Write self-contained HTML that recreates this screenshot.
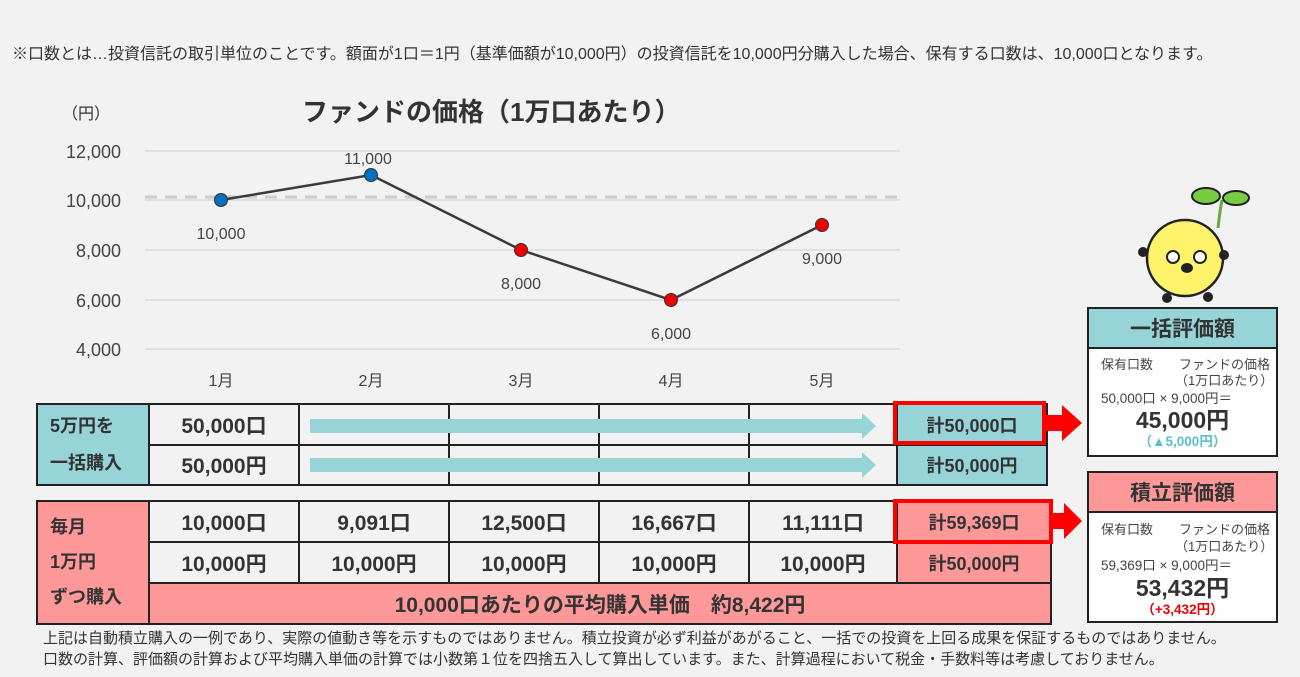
<!DOCTYPE html><html><head><meta charset="utf-8"><style>
body{margin:0;width:1300px;height:677px;background:#f2f2f2;position:relative;overflow:hidden;font-family:"Liberation Sans","Noto Sans CJK JP",sans-serif;color:#333}
.a{position:absolute}
.c{position:absolute;box-sizing:border-box;border:2px solid #222;display:flex;align-items:center;justify-content:center;font-weight:bold;font-size:21px;color:#333;background:#f2f2f2}
.t{background:#96d4d8}.p{background:#ff9999}
.arr{position:absolute;height:14px;background:#96d4d8}
.arr:after{content:"";position:absolute;right:-14px;top:-6px;border-left:14px solid #96d4d8;border-top:13px solid transparent;border-bottom:13px solid transparent}
.bx{position:absolute;box-sizing:border-box;border:2px solid #222;background:#fff;text-align:center}
.hd{position:absolute;box-sizing:border-box;border:2px solid #222;font-weight:bold;font-size:21px;display:flex;align-items:center;justify-content:center}
.sm{font-size:13px;color:#444;position:absolute}
</style></head><body>
<div class="a" style="left:12px;top:40px;font-size:16px;white-space:nowrap">※口数とは…投資信託の取引単位のことです。額面が1口＝1円（基準価額が10,000円）の投資信託を10,000円分購入した場合、保有する口数は、10,000口となります。</div>
<div class="a" style="left:62px;top:100px;font-size:16px">（円）</div>
<div class="a" style="left:302px;top:92px;font-size:26px;font-weight:bold">ファンドの価格（1万口あたり）</div>
<svg class="a" style="left:0;top:0" width="1300" height="400">
<g stroke="#d9d9d9" stroke-width="1.5"><line x1="145" y1="151" x2="900" y2="151"/><line x1="145" y1="200" x2="900" y2="200"/><line x1="145" y1="250" x2="900" y2="250"/><line x1="145" y1="300" x2="900" y2="300"/><line x1="145" y1="349" x2="900" y2="349"/></g>
<line x1="145" y1="197" x2="900" y2="197" stroke="#ccc" stroke-width="3" stroke-dasharray="12,8"/>
<g font-size="18" fill="#444" text-anchor="end" font-family="Liberation Sans"><text x="121" y="158">12,000</text><text x="121" y="207">10,000</text><text x="121" y="257">8,000</text><text x="121" y="307">6,000</text><text x="121" y="356">4,000</text></g>
<g font-size="16" fill="#444" text-anchor="middle" font-family="Liberation Sans,Noto Sans CJK JP"><text x="221" y="386">1月</text><text x="371" y="386">2月</text><text x="521" y="386">3月</text><text x="671" y="386">4月</text><text x="822" y="386">5月</text>
<text x="221" y="239">10,000</text><text x="368" y="164">11,000</text><text x="521" y="289">8,000</text><text x="671" y="339">6,000</text><text x="822" y="264">9,000</text></g>
<polyline points="221,200 371,175 521,250 671,300 822,225" fill="none" stroke="#3a3a3a" stroke-width="2.5"/>
<g stroke="#333" stroke-width="1"><circle cx="221" cy="200" r="6.5" fill="#0070c0"/><circle cx="371" cy="175" r="6.5" fill="#0070c0"/><circle cx="521" cy="250" r="6.5" fill="#e00"/><circle cx="671" cy="300" r="6.5" fill="#e00"/><circle cx="822" cy="225" r="6.5" fill="#e00"/></g>
<path d="M1218 228 Q1220 210 1222 200" stroke="#6a4" stroke-width="3" fill="none"/>
<ellipse cx="1206" cy="196" rx="14" ry="8" fill="#7c4" stroke="#222" stroke-width="2"/><ellipse cx="1236" cy="198" rx="13" ry="7" fill="#7c4" stroke="#222" stroke-width="2"/>
<circle cx="1185" cy="258" r="38" fill="#fff36b" stroke="#222" stroke-width="2.5"/>
<circle cx="1143" cy="252" r="5" fill="#222"/><circle cx="1224" cy="255" r="5" fill="#222"/>
<circle cx="1167" cy="298" r="5" fill="#222"/><circle cx="1208" cy="297" r="5" fill="#222"/>
<circle cx="1173" cy="257" r="6" fill="#fff" stroke="#222" stroke-width="2"/><circle cx="1200" cy="257" r="6" fill="#fff" stroke="#222" stroke-width="2"/>
<ellipse cx="1187" cy="268" rx="6" ry="5" fill="#222"/>
</svg>
<div class="c t" style="left:36px;top:403px;width:114px;height:83px;justify-content:flex-start;padding-left:12px;font-size:18px;line-height:37px">5万円を<br>一括購入</div>
<div class="c" style="left:148px;top:403px;width:152px;height:43px">50,000口</div>
<div class="c" style="left:148px;top:444px;width:152px;height:42px">50,000円</div>
<div class="c" style="left:298px;top:403px;width:152px;height:43px"></div><div class="c" style="left:448px;top:403px;width:152px;height:43px"></div><div class="c" style="left:598px;top:403px;width:152px;height:43px"></div><div class="c" style="left:748px;top:403px;width:150px;height:43px"></div>
<div class="c" style="left:298px;top:444px;width:152px;height:42px"></div><div class="c" style="left:448px;top:444px;width:152px;height:42px"></div><div class="c" style="left:598px;top:444px;width:152px;height:42px"></div><div class="c" style="left:748px;top:444px;width:150px;height:42px"></div>
<div class="arr" style="left:310px;top:419px;width:552px"></div><div class="arr" style="left:310px;top:458px;width:552px"></div>
<div class="c t" style="left:896px;top:403px;width:152px;height:43px;font-size:18px">計50,000口</div>
<div class="c t" style="left:896px;top:444px;width:152px;height:42px;font-size:18px">計50,000円</div>
<div class="a" style="left:893px;top:401px;width:153px;height:44px;border:4px solid #f00;box-sizing:border-box"></div>
<div class="c p" style="left:36px;top:500px;width:114px;height:125px;justify-content:flex-start;padding-left:12px;font-size:18px;line-height:35px">毎月<br>1万円<br>ずつ購入</div>
<div class="c" style="left:148px;top:500px;width:152px;height:43px">10,000口</div><div class="c" style="left:298px;top:500px;width:152px;height:43px">9,091口</div><div class="c" style="left:448px;top:500px;width:152px;height:43px">12,500口</div><div class="c" style="left:598px;top:500px;width:152px;height:43px">16,667口</div><div class="c" style="left:748px;top:500px;width:150px;height:43px">11,111口</div>
<div class="c" style="left:148px;top:541px;width:152px;height:43px">10,000円</div><div class="c" style="left:298px;top:541px;width:152px;height:43px">10,000円</div><div class="c" style="left:448px;top:541px;width:152px;height:43px">10,000円</div><div class="c" style="left:598px;top:541px;width:152px;height:43px">10,000円</div><div class="c" style="left:748px;top:541px;width:150px;height:43px">10,000円</div>
<div class="c p" style="left:896px;top:500px;width:156px;height:43px;font-size:18px">計59,369口</div>
<div class="c p" style="left:896px;top:541px;width:156px;height:43px;font-size:18px">計50,000円</div>
<div class="c p" style="left:148px;top:582px;width:904px;height:43px">10,000口あたりの平均購入単価　約8,422円</div>
<div class="a" style="left:893px;top:499px;width:160px;height:45px;border:4px solid #f00;box-sizing:border-box"></div>
<div class="a" style="left:1046px;top:415px;width:16px;height:16px;background:#f00"></div><div class="a" style="left:1062px;top:405px;border-left:20px solid #f00;border-top:18px solid transparent;border-bottom:18px solid transparent"></div>
<div class="a" style="left:1052px;top:513px;width:12px;height:16px;background:#f00"></div><div class="a" style="left:1064px;top:503px;border-left:18px solid #f00;border-top:18px solid transparent;border-bottom:18px solid transparent"></div>
<div class="bx" style="left:1087px;top:346px;width:191px;height:111px"></div>
<div class="hd t" style="left:1087px;top:307px;width:191px;height:42px">一括評価額</div>
<div class="sm" style="left:1101px;top:354px">保有口数</div><div class="sm" style="left:1179px;top:354px">ファンドの価格</div><div class="sm" style="left:1175px;top:370px">（1万口あたり）</div>
<div class="sm" style="left:1101px;top:387px;font-size:13.5px">50,000口 × 9,000円＝</div>
<div class="a" style="left:1087px;top:401px;width:191px;text-align:center;font-size:23px;font-weight:bold">45,000円</div>
<div class="a" style="left:1087px;top:430px;width:191px;text-align:center;font-size:13.5px;font-weight:bold;color:#5bbfc6">（▲5,000円）</div>
<div class="bx" style="left:1087px;top:510px;width:191px;height:113px"></div>
<div class="hd p" style="left:1087px;top:471px;width:191px;height:42px">積立評価額</div>
<div class="sm" style="left:1101px;top:519px">保有口数</div><div class="sm" style="left:1179px;top:519px">ファンドの価格</div><div class="sm" style="left:1175px;top:536px">（1万口あたり）</div>
<div class="sm" style="left:1101px;top:554px;font-size:13.5px">59,369口 × 9,000円＝</div>
<div class="a" style="left:1087px;top:569px;width:191px;text-align:center;font-size:23px;font-weight:bold">53,432円</div>
<div class="a" style="left:1087px;top:598px;width:191px;text-align:center;font-size:13.5px;font-weight:bold;color:#e00">（+3,432円）</div>
<div class="a" style="left:43px;top:628px;font-size:15px;line-height:21px;white-space:nowrap">上記は自動積立購入の一例であり、実際の値動き等を示すものではありません。積立投資が必ず利益があがること、一括での投資を上回る成果を保証するものではありません。<br>口数の計算、評価額の計算および平均購入単価の計算では小数第１位を四捨五入して算出しています。また、計算過程において税金・手数料等は考慮しておりません。</div>
</body></html>
